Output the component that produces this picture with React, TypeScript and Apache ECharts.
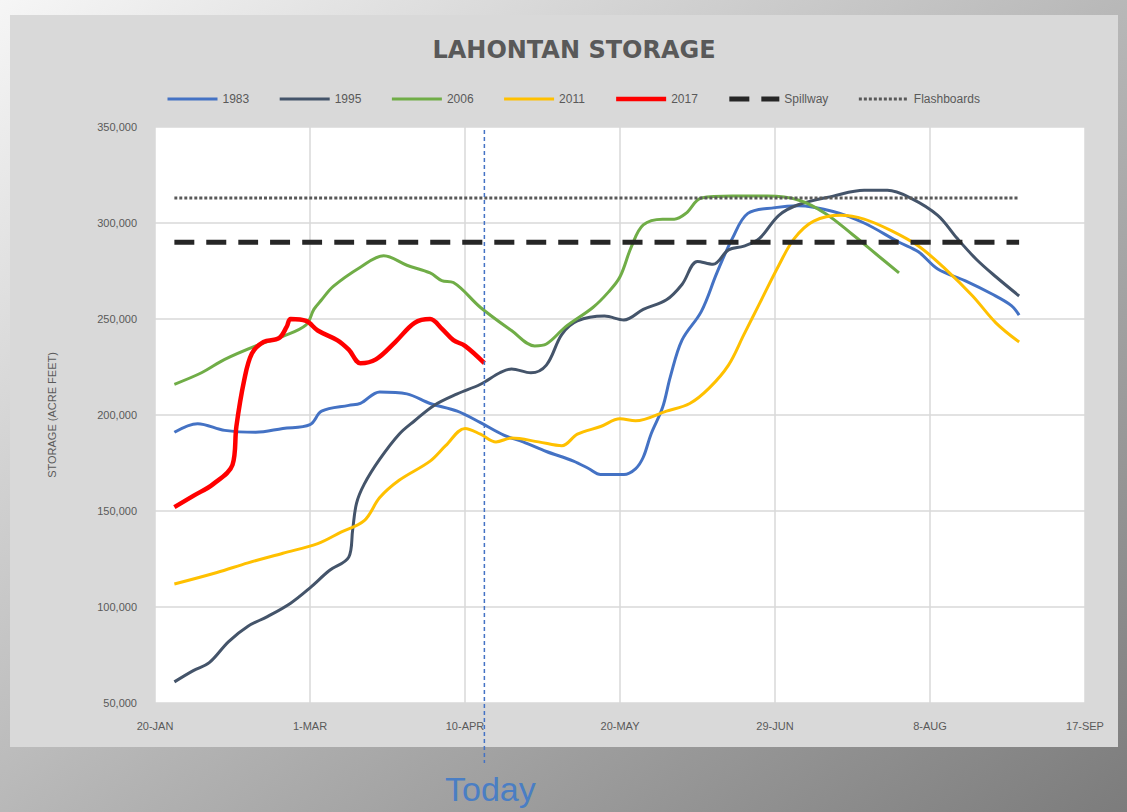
import React, { useEffect, useRef } from "react";
import * as echarts from "echarts";

// x = days after 20-JAN, y = storage in acre-feet
const xTickLabels = ["20-JAN", "1-MAR", "10-APR", "20-MAY", "29-JUN", "8-AUG", "17-SEP"];
const xTickStepDays = 40;
const todayDay = 85;

const s1983: [number, number][] = [
  [5, 191000], [11, 195500], [18, 192000], [26, 191000], [33, 193000], [40, 195000], [43, 202000],
  [50, 205000], [53, 206000], [58, 212000], [65, 211000], [71, 206000], [78, 202000], [84, 196000],
  [90, 189500], [95, 186000], [101, 181000], [108, 176000], [112, 172000], [115, 169000], [121, 169000],
  [124, 172000], [126, 178000], [128, 190000], [131, 204000], [133, 220000], [136, 239000], [141, 254000],
  [145, 274000], [149, 292000], [153, 305000], [160, 308000], [166, 309000], [175, 306000], [183, 300000],
  [192, 290000], [197, 285000], [202, 276000], [209, 270000], [216, 263000], [221, 257000], [223, 252000],
];

const s1995: [number, number][] = [
  [5, 61000], [10, 67000], [14, 71000], [19, 82000], [24, 90000], [29, 95000], [35, 102000], [40, 110000],
  [45, 119000], [50, 126000], [51, 140000], [52, 154000], [54, 164000], [58, 177000], [63, 190000],
  [67, 197000], [72, 205000], [78, 211000], [84, 216000], [89, 222000], [92, 224000], [97, 222000],
  [101, 226000], [105, 242000], [109, 249000], [116, 251500], [121, 249500], [126, 255000], [132, 260000],
  [136, 268000], [140, 280000], [144, 278500], [148, 286000], [152, 288000], [156, 292000], [161, 304000],
  [166, 309500], [175, 314000], [183, 317000], [189, 317000], [195, 313000], [202, 304000], [207, 292000],
  [212, 281000], [217, 272000], [223, 262000],
];

const s2006: [number, number][] = [
  [5, 216000], [12, 222000], [18, 229000], [26, 236000], [33, 241000], [39, 247000], [41, 255000],
  [43, 260000], [46, 267000], [53, 277000], [59, 283000], [65, 278000], [71, 274000], [74, 270000],
  [77, 269000], [84, 256000], [92, 244000], [98, 236000], [101, 237000], [106, 246000], [113, 256000],
  [117, 264000], [120, 272000], [123, 288000], [126, 299000], [131, 302000], [134, 302000], [137, 305000],
  [141, 313000], [149, 314000], [158, 314000], [166, 312000], [173, 305000], [180, 294000], [186, 284000],
  [192, 274000],
];

const s2011: [number, number][] = [
  [5, 112000], [16, 118000], [24, 123000], [33, 128000], [42, 133000], [48, 139000], [54, 145000],
  [58, 157000], [63, 166000], [71, 176000], [75, 184000], [80, 193000], [84, 190000], [88, 186000],
  [92, 188000], [99, 186000], [105, 184000], [109, 190000], [115, 194000], [120, 198000], [124, 197000],
  [132, 202000], [138, 206000], [143, 214000], [148, 226000], [152, 242000], [156, 258000], [161, 278000],
  [165, 292000], [170, 301000], [177, 304000], [183, 302000], [190, 296000], [197, 288000], [204, 276000],
  [211, 262000], [217, 248000], [223, 238000],
];

const s2017: [number, number][] = [
  [5, 152000], [10, 158000], [15, 164000], [20, 174000], [21, 194000], [23, 218000], [25, 232000],
  [28, 238000], [32, 240000], [34, 246000], [35, 250000], [39, 249000], [42, 244000], [47, 239000],
  [50, 234000], [53, 227000], [57, 229000], [62, 238000], [67, 248000], [71, 250000], [74, 245000],
  [77, 239000], [80, 236000], [85, 227000],
];

const spillway: [number, number][] = [[5, 290000], [223, 290000]];
const flashboards: [number, number][] = [[5, 313000], [223, 313000]];

const Y_MIN = 50000;
const Y_MAX = 350000;
const Y_STEP = 50000;

export default function App() {
  const ref = useRef<HTMLDivElement>(null);

  useEffect(() => {
    if (!ref.current) return;
    const chart = echarts.init(ref.current, null, { renderer: "svg" });
    const labelColor = "#595959";
    const font = "Liberation Sans";
    const line = (name: string, data: [number, number][], color: string, width: number, type: any = "solid") => ({
      name,
      type: "line",
      data,
      symbol: "none",
      smooth: 0.35,
      lineStyle: { color, width, type, cap: "butt" },
      itemStyle: { color },
      emphasis: { disabled: true },
    });
    const legendItem = (name: string, width: number) => ({ name, lineStyle: { width } });

    chart.setOption({
      animation: false,
      backgroundColor: new echarts.graphic.LinearGradient(0, 0, 1, 1, [
        { offset: 0, color: "#f6f6f6" },
        { offset: 0.5, color: "#b8b8b8" },
        { offset: 1, color: "#7c7c7c" },
      ]),
      textStyle: { fontFamily: font },
      title: {
        text: "LAHONTAN STORAGE",
        left: 569,
        textAlign: "center",
        top: 33,
        textStyle: { fontFamily: "DejaVu Sans", fontWeight: "bold", fontSize: 24, color: "#595959" },
      },
      legend: {
        left: 161,
        top: 88,
        itemWidth: 50,
        itemHeight: 14,
        itemGap: 29,
        itemStyle: { opacity: 0 },
        textStyle: { color: labelColor, fontSize: 12, fontFamily: font },
        data: [
          legendItem("1983", 3),
          legendItem("1995", 3),
          legendItem("2006", 3),
          legendItem("2011", 3),
          legendItem("2017", 4.5),
          legendItem("Spillway", 5),
          legendItem("Flashboards", 3),
        ],
      },
      grid: {
        left: 155,
        right: 42,
        top: 127,
        bottom: 109,
        show: true,
        backgroundColor: "#ffffff",
        borderWidth: 0,
      },
      xAxis: {
        type: "value",
        min: 0,
        max: (xTickLabels.length - 1) * xTickStepDays,
        interval: xTickStepDays,
        axisLine: { show: false },
        axisTick: { show: false },
        splitLine: { show: true, lineStyle: { color: "#d9d9d9", width: 1.5 } },
        axisLabel: {
          color: labelColor,
          fontSize: 11,
          margin: 17,
          formatter: (v: number) => xTickLabels[Math.round(v / xTickStepDays)] ?? "",
        },
      },
      yAxis: {
        type: "value",
        min: Y_MIN,
        max: Y_MAX,
        interval: Y_STEP,
        name: "STORAGE (ACRE FEET)",
        nameLocation: "middle",
        nameRotate: 90,
        nameGap: 98,
        nameTextStyle: { color: labelColor, fontSize: 11 },
        axisLine: { show: false },
        axisTick: { show: false },
        splitLine: { show: true, lineStyle: { color: "#d9d9d9", width: 1.5 } },
        axisLabel: {
          color: labelColor,
          fontSize: 11,
          margin: 18,
          formatter: (v: number) => v.toLocaleString("en-US"),
        },
      },
      series: [
        line("1983", s1983, "#4472C4", 3),
        line("1995", s1995, "#44546A", 3),
        line("2006", s2006, "#70AD47", 3),
        line("2011", s2011, "#FFC000", 3),
        line("2017", s2017, "#FF0000", 4.5),
        line("Spillway", spillway, "#262626", 5, [20, 12]),
        line("Flashboards", flashboards, "#595959", 3, [3, 2]),
      ],
    });

    const x = chart.convertToPixel({ xAxisIndex: 0 }, todayDay) as number;
    const yTop = chart.convertToPixel({ yAxisIndex: 0 }, Y_MAX) as number;

    chart.setOption({
      graphic: [
        {
          id: "panel",
          type: "rect",
          z: -10,
          silent: true,
          shape: { x: 10, y: 15, width: 1108, height: 732 },
          style: { fill: "#d9d9d9" },
        },
        {
          id: "todayLine",
          type: "line",
          z: 100,
          silent: true,
          shape: { x1: x, y1: yTop + 3, x2: x, y2: 763 },
          style: { stroke: "#4472C4", lineWidth: 1.5, lineDash: [4, 3] },
        },
        {
          id: "todayText",
          type: "text",
          z: 100,
          x: x + 6,
          y: 789,
          style: {
            text: "Today",
            fill: "#4A7EC4",
            font: "34px 'Liberation Sans'",
            align: "center",
            verticalAlign: "middle",
          },
        },
      ],
    });

    return () => chart.dispose();
  }, []);

  return (
    <div
      ref={ref}
      style={{ position: "absolute", left: 0, top: 0, width: 1127, height: 812 }}
    />
  );
}
